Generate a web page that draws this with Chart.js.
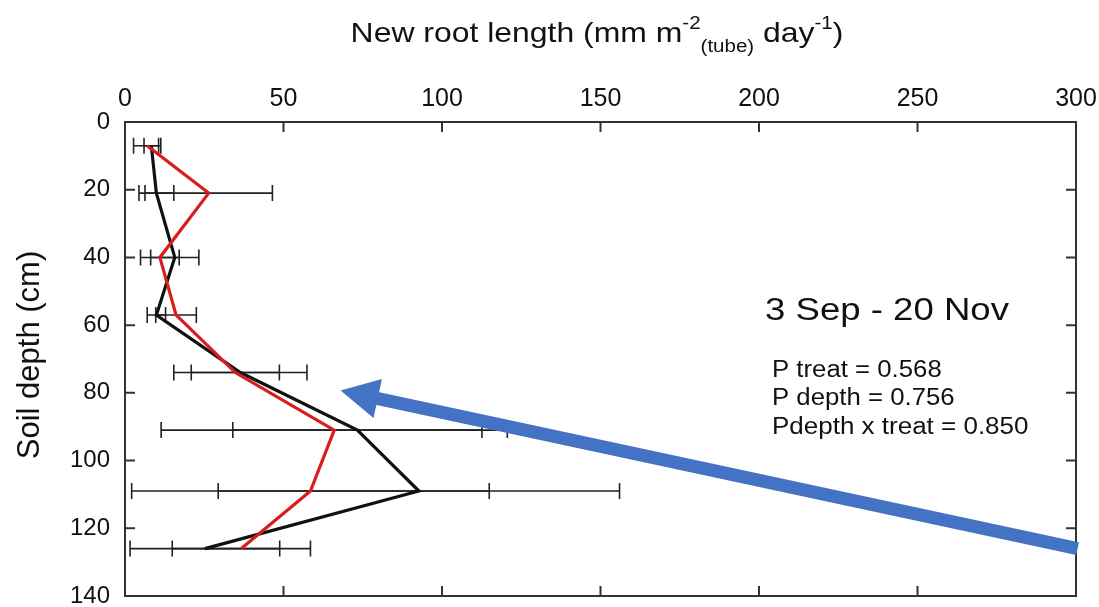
<!DOCTYPE html>
<html>
<head>
<meta charset="utf-8">
<script src="https://cdn.jsdelivr.net/npm/chart.js@4.4.1/dist/chart.umd.min.js"></script>
<style>
  html, body { margin: 0; padding: 0; background: #fff; overflow: hidden; }
  #wrap { width: 1099px; height: 607px; }
</style>
</head>
<body>
<div id="wrap"><canvas id="chart"></canvas></div>
<script>
// soil depth of each sampling layer (cm)
const depths = [7, 21, 40, 57, 74, 91, 109, 126];
// black series: mean and standard error
const blackMean = [8.3, 9.9, 15.7, 9.9, 36.4, 73.3, 92.7, 25.2];
const blackSE = [2.3, 5.5, 7.6, 2.9, 21.0, 39.3, 63.3, 23.6];
// red series: mean and standard error
const redMean = [7.0, 26.4, 11.0, 16.1, 34.8, 66.0, 58.5, 36.7];
const redSE = [4.3, 20.1, 6.1, 6.4, 13.9, 54.6, 56.4, 21.8];
// axis ranges
const xRange = [0, 300, 50];
const yRange = [0, 140, 20];
// arrow annotation, in data units [root length, depth]
const arrowTail = [300.5, 126];
const arrowTip = [68, 79.3];

const FONT = '"Liberation Sans", Arial, sans-serif';

function toPoints(means) {
    return means.map((m, i) => ({ x: m, y: depths[i] }));
}

// draws text stretched horizontally (the original is a bit wide)
function stretchText(ctx, text, x, y, sx) {
    ctx.save();
    ctx.translate(x, y);
    ctx.scale(sx, 1);
    ctx.fillText(text, 0, 0);
    ctx.restore();
}

const errorBars = {
    id: 'errorBars',
    beforeDatasetsDraw(chart) {
        const ctx = chart.ctx;
        const xs = chart.scales.x, ys = chart.scales.y;
        ctx.save();
        ctx.strokeStyle = '#222';
        ctx.lineWidth = 1.6;
        [[blackMean, blackSE], [redMean, redSE]].forEach(([mean, se]) => {
            mean.forEach((m, i) => {
                const y = ys.getPixelForValue(depths[i]);
                const x1 = xs.getPixelForValue(m - se[i]);
                const x2 = xs.getPixelForValue(m + se[i]);
                ctx.beginPath();
                ctx.moveTo(x1, y); ctx.lineTo(x2, y);
                ctx.moveTo(x1, y - 8); ctx.lineTo(x1, y + 8);
                ctx.moveTo(x2, y - 8); ctx.lineTo(x2, y + 8);
                ctx.stroke();
            });
        });
        ctx.restore();
    }
};

const decorations = {
    id: 'decorations',
    afterDraw(chart) {
        const ctx = chart.ctx;
        const a = chart.chartArea;
        const xs = chart.scales.x, ys = chart.scales.y;
        ctx.save();

        // frame with inward ticks
        ctx.strokeStyle = '#333';
        ctx.lineWidth = 2;
        ctx.strokeRect(a.left, a.top, a.right - a.left, a.bottom - a.top);
        ctx.beginPath();
        xs.ticks.forEach(t => {
            const px = xs.getPixelForValue(t.value);
            ctx.moveTo(px, a.top); ctx.lineTo(px, a.top + 10);
            ctx.moveTo(px, a.bottom); ctx.lineTo(px, a.bottom - 10);
        });
        ys.ticks.forEach(t => {
            const py = ys.getPixelForValue(t.value);
            ctx.moveTo(a.left, py); ctx.lineTo(a.left + 10, py);
            ctx.moveTo(a.right, py); ctx.lineTo(a.right - 10, py);
        });
        ctx.stroke();

        // arrow
        const tx = xs.getPixelForValue(arrowTip[0]), ty = ys.getPixelForValue(arrowTip[1]);
        const sx = xs.getPixelForValue(arrowTail[0]), sy = ys.getPixelForValue(arrowTail[1]);
        const len = Math.hypot(tx - sx, ty - sy);
        const ux = (tx - sx) / len, uy = (ty - sy) / len;
        const nx = -uy, ny = ux;
        const headLen = 38, headHalf = 20;
        const bx = tx - ux * headLen, by = ty - uy * headLen;
        ctx.strokeStyle = '#4472C4';
        ctx.fillStyle = '#4472C4';
        ctx.lineWidth = 13;
        ctx.lineCap = 'butt';
        ctx.beginPath();
        ctx.moveTo(sx, sy); ctx.lineTo(bx + ux * 2, by + uy * 2);
        ctx.stroke();
        ctx.beginPath();
        ctx.moveTo(tx, ty);
        ctx.lineTo(bx + nx * headHalf, by + ny * headHalf);
        ctx.lineTo(bx - nx * headHalf, by - ny * headHalf);
        ctx.closePath();
        ctx.fill();

        // annotation text
        ctx.fillStyle = '#111';
        ctx.textAlign = 'left';
        ctx.textBaseline = 'alphabetic';
        ctx.font = '31px ' + FONT;
        stretchText(ctx, '3 Sep - 20 Nov', 765, 320, 1.18);
        ctx.font = '23px ' + FONT;
        stretchText(ctx, 'P treat = 0.568', 772, 377, 1.12);
        stretchText(ctx, 'P depth = 0.756', 772, 405, 1.12);
        stretchText(ctx, 'Pdepth x treat = 0.850', 772, 434, 1.13);

        // x title with super/subscripts
        const parts = [
            { t: 'New root length (mm m', f: 28, dy: 0 },
            { t: '-2', f: 18, dy: -13 },
            { t: '(tube)', f: 18, dy: 10 },
            { t: ' day', f: 28, dy: 0 },
            { t: '-1', f: 18, dy: -13 },
            { t: ')', f: 28, dy: 0 }
        ];
        const stretch = 1.14;
        let total = 0;
        parts.forEach(p => { ctx.font = p.f + 'px ' + FONT; p.w = ctx.measureText(p.t).width * stretch; total += p.w; });
        let cx = 597 - total / 2;
        parts.forEach(p => {
            ctx.font = p.f + 'px ' + FONT;
            stretchText(ctx, p.t, cx, 42 + p.dy, stretch);
            cx += p.w;
        });

        // y title
        ctx.save();
        ctx.translate(30, 355);
        ctx.rotate(-Math.PI / 2);
        ctx.textAlign = 'center';
        ctx.textBaseline = 'middle';
        ctx.font = '31px ' + FONT;
        ctx.fillText('Soil depth (cm)', 0, 0);
        ctx.restore();

        ctx.restore();
    }
};

new Chart(document.getElementById('chart'), {
    type: 'line',
    data: {
        datasets: [
            {
                label: 'black',
                data: toPoints(blackMean),
                borderColor: '#111',
                borderWidth: 3.2,
                pointRadius: 0,
                tension: 0,
                order: 2
            },
            {
                label: 'red',
                data: toPoints(redMean),
                borderColor: '#d91c1c',
                borderWidth: 3.2,
                pointRadius: 0,
                tension: 0,
                order: 1
            }
        ]
    },
    options: {
        responsive: true,
        maintainAspectRatio: false,
        animation: false,
        layout: { padding: { left: 0, right: 23, top: 0, bottom: 11 } },
        plugins: {
            legend: { display: false },
            tooltip: { enabled: false }
        },
        scales: {
            x: {
                type: 'linear',
                position: 'top',
                min: xRange[0],
                max: xRange[1],
                grid: { display: false, drawTicks: false },
                border: { display: false },
                ticks: {
                    stepSize: xRange[2],
                    padding: 8,
                    color: '#111',
                    font: { family: FONT, size: 25 }
                },
                afterFit(scale) {
                    scale.height = 122;
                    scale.paddingLeft = 0;
                    scale.paddingRight = 0;
                }
            },
            y: {
                type: 'linear',
                reverse: true,
                min: yRange[0],
                max: yRange[1],
                grid: { display: false, drawTicks: false },
                border: { display: false },
                ticks: {
                    stepSize: yRange[2],
                    padding: 15,
                    color: '#111',
                    font: { family: FONT, size: 24 }
                },
                afterFit(scale) {
                    scale.width = 125;
                    scale.paddingTop = 0;
                    scale.paddingBottom = 0;
                }
            }
        }
    },
    plugins: [errorBars, decorations]
});
</script>
</body>
</html>
